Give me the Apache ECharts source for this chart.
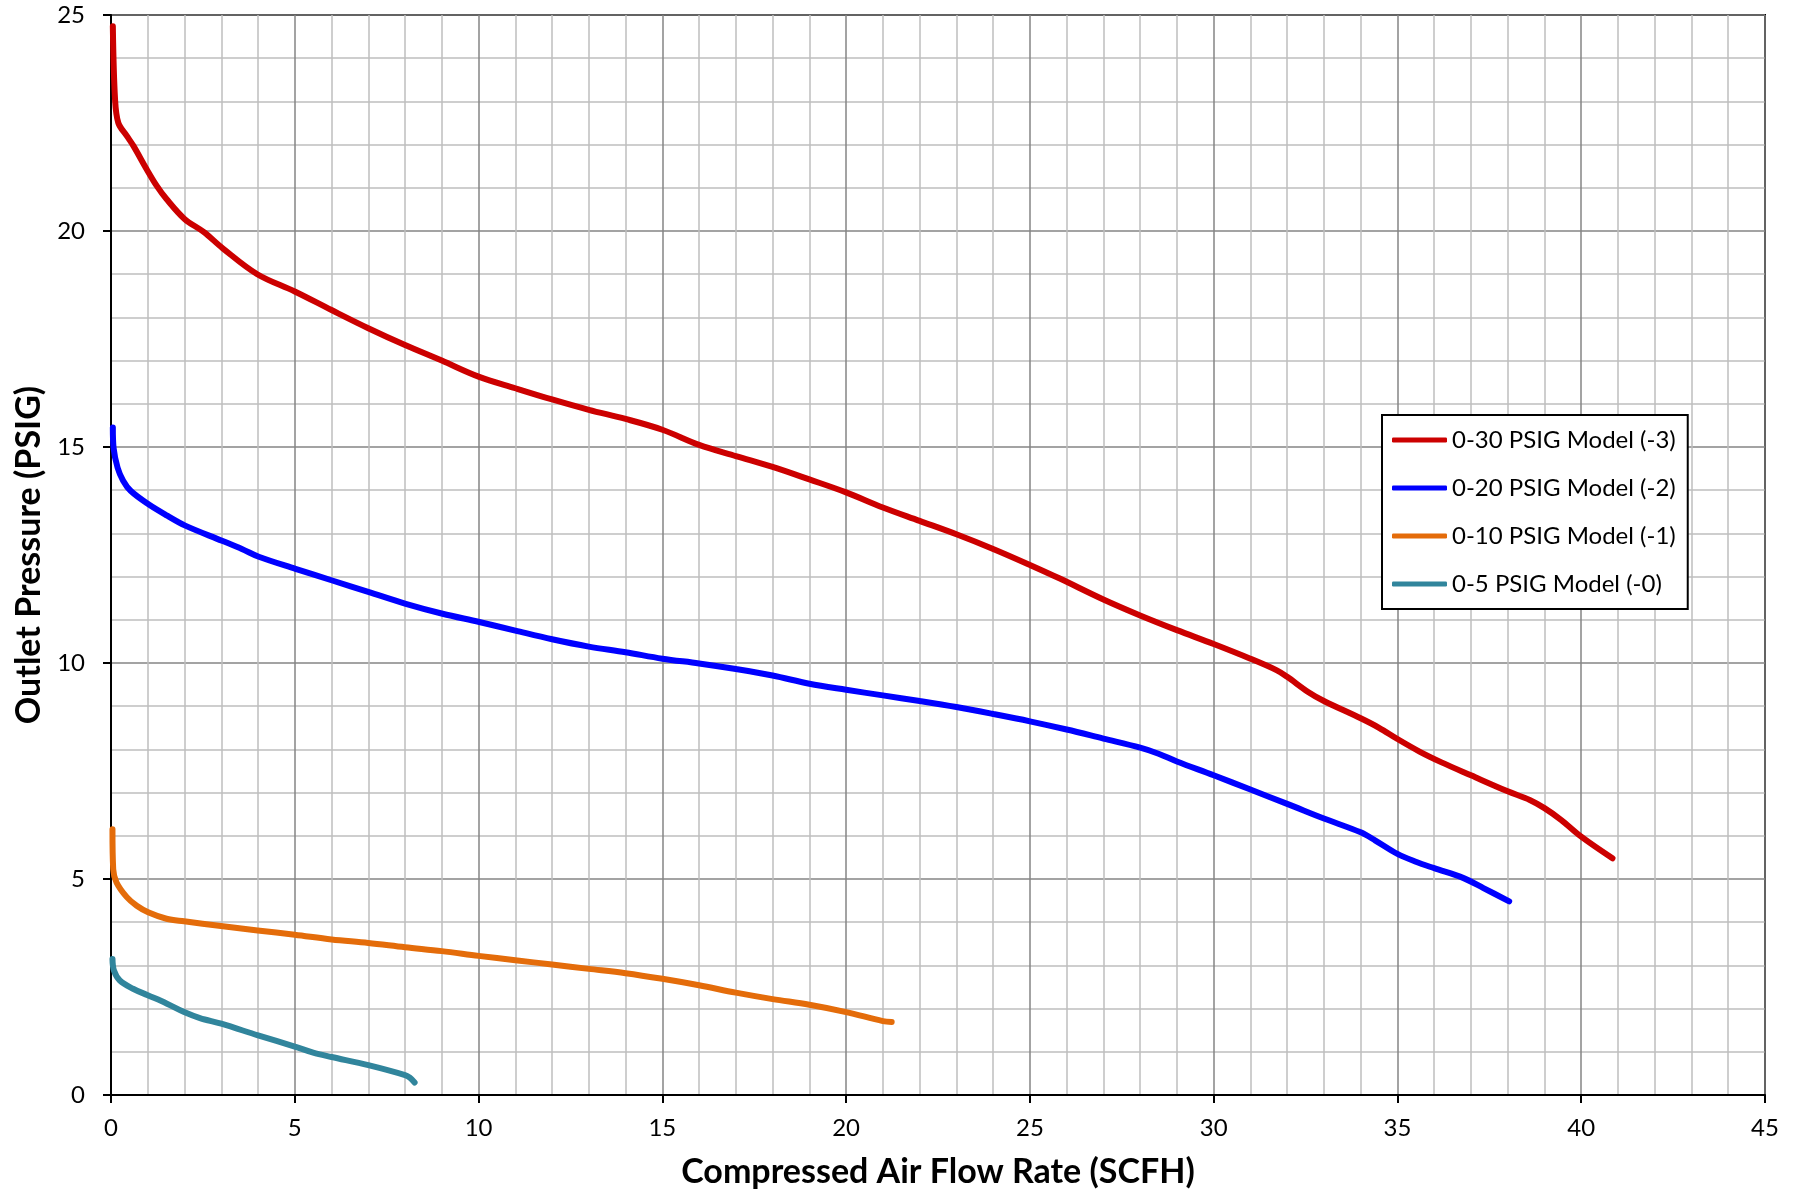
<!DOCTYPE html>
<html>
<head>
<meta charset="utf-8">
<script src="https://cdn.jsdelivr.net/npm/echarts@6/dist/echarts.min.js"></script>
<style>
html,body{margin:0;padding:0;background:#fff;}
#chart{width:1797px;height:1194px;}
</style>
</head>
<body>
<div id="chart"></div>
<script>
// Series names
const seriesNames = ['0-30 PSIG Model (-3)', '0-20 PSIG Model (-2)', '0-10 PSIG Model (-1)', '0-5 PSIG Model (-0)'];

// 0-30 PSIG Model (-3)
const flow30 = [0.05, 0.11, 0.2, 0.43, 0.61, 0.97, 1.24, 1.51, 2.0, 2.52, 3.04, 3.98, 5.0, 6.0, 7.0, 8.0, 9.0, 10.0, 11.0, 12.0, 13.0, 14.0, 15.0, 16.0, 17.0, 18.0, 19.0, 20.0, 21.0, 22.0, 23.0, 24.0, 25.0, 25.8, 27.0, 28.0, 29.0, 30.0, 31.0, 31.72, 32.0, 32.57, 33.0, 34.0, 34.5, 35.0, 35.6, 36.2, 37.0, 38.0, 38.6, 39.0, 39.45, 40.0, 40.85];
const press30 = [24.74, 23.05, 22.5, 22.2, 21.97, 21.43, 21.05, 20.74, 20.28, 19.98, 19.6, 19.0, 18.6, 18.17, 17.75, 17.36, 17.0, 16.63, 16.36, 16.1, 15.86, 15.65, 15.4, 15.05, 14.79, 14.54, 14.25, 13.95, 13.6, 13.29, 12.98, 12.64, 12.27, 11.96, 11.47, 11.1, 10.76, 10.44, 10.1, 9.83, 9.68, 9.33, 9.12, 8.72, 8.5, 8.24, 7.95, 7.7, 7.4, 7.03, 6.83, 6.64, 6.37, 5.98, 5.48];

// 0-20 PSIG Model (-2)
const flow20 = [0.05, 0.07, 0.18, 0.33, 0.54, 1.01, 1.53, 2.02, 3.02, 3.56, 4.02, 5.02, 6.02, 7.02, 8.02, 9.02, 10.02, 11.0, 12.0, 13.0, 14.0, 15.0, 16.0, 17.0, 18.0, 19.0, 20.0, 21.0, 22.0, 23.0, 24.0, 25.0, 26.0, 27.0, 28.0, 28.5, 29.0, 30.0, 31.0, 32.0, 33.0, 34.0, 34.4, 35.0, 35.5, 36.0, 36.8, 37.34, 38.04];
const press20 = [15.45, 14.98, 14.52, 14.22, 13.98, 13.68, 13.41, 13.18, 12.83, 12.64, 12.46, 12.18, 11.91, 11.64, 11.37, 11.14, 10.95, 10.75, 10.55, 10.38, 10.25, 10.1, 9.99, 9.86, 9.71, 9.52, 9.38, 9.25, 9.12, 8.98, 8.82, 8.65, 8.46, 8.25, 8.04, 7.9, 7.72, 7.4, 7.07, 6.74, 6.4, 6.08, 5.89, 5.58, 5.4, 5.25, 5.02, 4.79, 4.48];

// 0-10 PSIG Model (-1)
const flow10 = [0.04, 0.06, 0.15, 0.43, 0.7, 1.01, 1.51, 1.99, 2.99, 3.99, 5.0, 6.0, 7.0, 8.0, 9.0, 10.0, 11.0, 12.0, 13.0, 14.0, 15.0, 16.0, 17.0, 18.0, 19.0, 20.0, 21.0, 21.24];
const press10 = [6.15, 5.23, 4.92, 4.58, 4.38, 4.23, 4.08, 4.02, 3.91, 3.81, 3.71, 3.6, 3.52, 3.42, 3.33, 3.22, 3.12, 3.02, 2.92, 2.82, 2.69, 2.54, 2.37, 2.22, 2.09, 1.92, 1.71, 1.69];

// 0-5 PSIG Model (-0)
const flow5 = [0.04, 0.08, 0.24, 0.6, 1.0, 1.51, 1.99, 2.42, 3.0, 4.0, 5.0, 5.5, 6.0, 7.0, 8.0, 8.13, 8.26];
const press5 = [3.15, 2.88, 2.65, 2.46, 2.31, 2.12, 1.92, 1.78, 1.65, 1.38, 1.12, 0.98, 0.88, 0.69, 0.46, 0.4, 0.29];

// Axis ticks
const xTicks = [0, 5, 10, 15, 20, 25, 30, 35, 40, 45];
const yTicks = [0, 5, 10, 15, 20, 25];

const colors = ['#CC0000', '#0000FF', '#E46C0A', '#31859C'];
const flows = [flow30, flow20, flow10, flow5];
const presses = [press30, press20, press10, press5];

const FONT = 'Lato, "Open Sans", sans-serif';

const series = seriesNames.map((name, i) => ({
  name: name,
  type: 'line',
  data: flows[i].map((x, j) => [x, presses[i][j]]),
  showSymbol: false,
  symbol: 'none',
  smooth: 0.35,
  lineStyle: { color: colors[i], width: 6, cap: 'round', join: 'round' },
  itemStyle: { color: colors[i] },
  z: 10 - i
}));

const chart = echarts.init(document.getElementById('chart'), null, { renderer: 'canvas' });
chart.setOption({
  animation: false,
  backgroundColor: '#fff',
  grid: {
    left: 111, right: 32, top: 15, bottom: 94,
    show: true, borderColor: '#000', borderWidth: 2, backgroundColor: 'transparent'
  },
  legend: {
    data: seriesNames,
    orient: 'vertical',
    left: 1382, top: 415,
    backgroundColor: '#fff',
    borderColor: '#000', borderWidth: 2,
    padding: [11, 12, 11, 10],
    itemWidth: 55, itemHeight: 5,
    itemGap: 20,
    icon: 'roundRect',
    textStyle: { fontFamily: FONT, fontSize: 24, color: '#000', lineHeight: 28 }
  },
  xAxis: {
    type: 'value',
    min: xTicks[0], max: xTicks[xTicks.length - 1], interval: 5,
    name: 'Compressed Air Flow Rate (SCFH)',
    nameLocation: 'middle', nameGap: 60,
    nameTextStyle: { fontFamily: FONT, fontSize: 34, fontWeight: 'bold', color: '#000' },
    axisLine: { show: true, lineStyle: { color: '#000', width: 2 } },
    axisTick: { show: true, length: 8, lineStyle: { color: '#000', width: 2 } },
    axisLabel: { fontFamily: FONT, fontSize: 24, color: '#000', margin: 21 },
    splitLine: { show: true, lineStyle: { color: '#858585', width: 1.5 } },
    minorTick: { show: false, splitNumber: 5 },
    minorSplitLine: { show: true, lineStyle: { color: '#BEBEBE', width: 1.5 } }
  },
  yAxis: {
    type: 'value',
    min: yTicks[0], max: yTicks[yTicks.length - 1], interval: 5,
    name: 'Outlet Pressure (PSIG)',
    nameLocation: 'middle', nameGap: 63,
    nameTextStyle: { fontFamily: FONT, fontSize: 34, fontWeight: 'bold', color: '#000' },
    axisLine: { show: true, lineStyle: { color: '#000', width: 2 } },
    axisTick: { show: true, length: 8, lineStyle: { color: '#000', width: 2 } },
    axisLabel: { fontFamily: FONT, fontSize: 24, color: '#000', margin: 26 },
    splitLine: { show: true, lineStyle: { color: '#858585', width: 1.5 } },
    minorTick: { show: false, splitNumber: 5 },
    minorSplitLine: { show: true, lineStyle: { color: '#BEBEBE', width: 1.5 } }
  },
  series: series
});
</script>
</body>
</html>
